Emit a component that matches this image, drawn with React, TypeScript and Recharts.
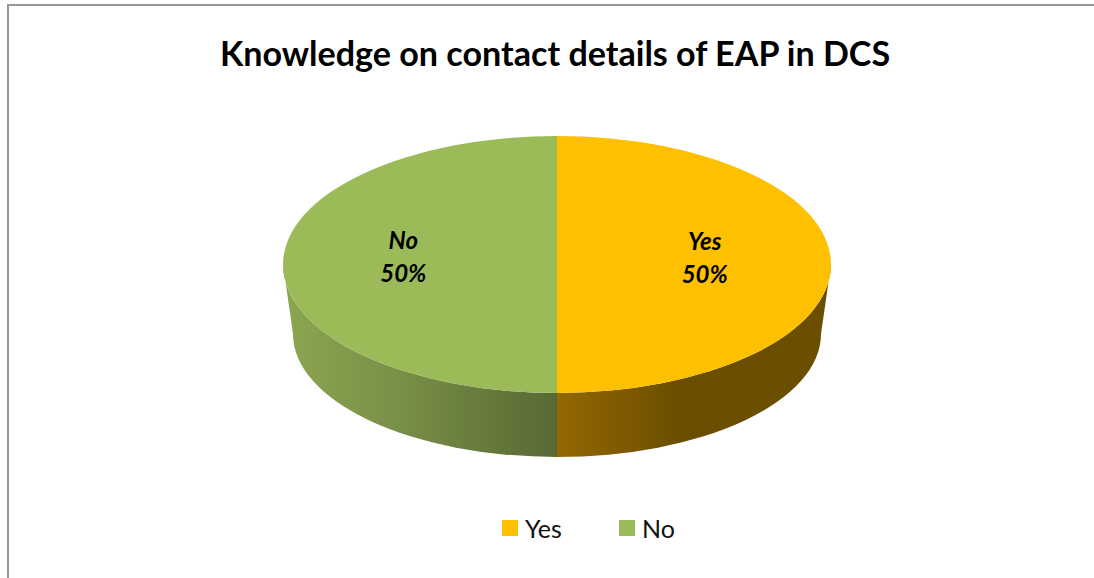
import { PieChart, Pie, Cell, Legend } from "recharts";

const categories = ["Yes", "No"];
const values = [50, 50];
const colors = ["#FFC000", "#9BBB59"];
const sideFills = ["url(#sideYes)", "url(#sideNo)"];

const pieData = categories.map((name, i) => ({ name, value: values[i] }));

const WIDTH = 1094;
const HEIGHT = 578;
const CX = 557;
const CY = 264.5;
const RX = 274;
const RY = 128.5;
// bottom rim of the 3D disc is a bit narrower than the top
const BOTTOM_RX = 264;
const BOTTOM_RY = 123;
const BOTTOM_CY = 334;
const FONT = "Lato, 'Open Sans', sans-serif";

const rad = (a: number) => (a * Math.PI) / 180;

function Disc3DSector(props: any) {
  const { startAngle, endAngle, fill, index, cx, cy } = props;
  const pt = (a: number, rx: number, ry: number, yc: number) =>
    `${cx + rx * Math.cos(rad(a))} ${yc - ry * Math.sin(rad(a))}`;

  // only the part of the sector facing the viewer has a wall
  const hi = Math.min(((startAngle % 360) + 360) % 360 || 360, 360);
  const span = startAngle - endAngle;
  const lo = hi - span;
  const wallFrom = hi > 180 ? hi : lo < 0 ? 360 : 180 + 0;
  const wallTo = hi > 180 ? Math.max(lo, 180) : Math.max(lo + 360, 270);

  const wall =
    `M ${pt(wallFrom, RX, RY, cy)} A ${RX} ${RY} 0 0 1 ${pt(wallTo, RX, RY, cy)} ` +
    `L ${pt(wallTo, BOTTOM_RX, BOTTOM_RY, BOTTOM_CY)} ` +
    `A ${BOTTOM_RX} ${BOTTOM_RY} 0 0 0 ${pt(wallFrom, BOTTOM_RX, BOTTOM_RY, BOTTOM_CY)} Z`;

  const large = span > 180 ? 1 : 0;
  const top =
    `M ${cx} ${cy} L ${pt(startAngle, RX, RY, cy)} ` +
    `A ${RX} ${RY} 0 ${large} 1 ${pt(endAngle, RX, RY, cy)} Z`;

  return (
    <g>
      <path d={wall} fill={sideFills[index]} />
      <path d={top} fill={fill} />
    </g>
  );
}

function renderLabel(props: any) {
  const { midAngle, percent, name, cx, cy, index } = props;
  const x = cx - 3 + RX * 0.55 * Math.cos(rad(midAngle));
  return (
    <text
      x={x}
      y={cy - 16 + (index === 0 ? 1 : 0)}
      textAnchor="middle"
      fontFamily={FONT}
      fontSize={24}
      fontWeight={700}
      fontStyle="italic"
      fill="#000"
    >
      <tspan x={x}>{name}</tspan>
      <tspan x={x} dy={33}>{`${Math.round(percent * 100)}%`}</tspan>
    </text>
  );
}

function renderLegend(props: any) {
  const { payload } = props;
  return (
    <div style={{ display: "flex", fontFamily: FONT, fontSize: 25, color: "#111" }}>
      {payload.map((entry: any, i: number) => (
        <div
          key={entry.value}
          style={{ display: "flex", alignItems: "center", width: i === 0 ? 117 : "auto" }}
        >
          <span style={{ width: 16, height: 16, marginRight: 7, background: entry.color }} />
          <span>{entry.value}</span>
        </div>
      ))}
    </div>
  );
}

export default function App() {
  return (
    <div
      style={{
        position: "absolute",
        left: 0,
        top: 0,
        width: WIDTH,
        height: HEIGHT,
        overflow: "hidden",
        background: "#fff",
      }}
    >
      <div
        style={{
          position: "absolute",
          left: 7,
          top: 4,
          width: WIDTH,
          height: HEIGHT,
          borderLeft: "2px solid #969696",
          borderTop: "2px solid #969696",
        }}
      />
      <div
        style={{
          position: "absolute",
          left: 0,
          width: 1110,
          top: 32,
          textAlign: "center",
          fontFamily: FONT,
          fontSize: 34.1,
          fontWeight: 700,
          color: "#000",
        }}
      >
        Knowledge on contact details of EAP in DCS
      </div>
      <PieChart
        width={WIDTH}
        height={HEIGHT}
        margin={{ top: 0, right: 0, bottom: 0, left: 0 }}
        style={{ position: "absolute", left: 0, top: 0 }}
      >
        <defs>
          <linearGradient id="sideYes" gradientUnits="userSpaceOnUse" x1={557} x2={831} y1={0} y2={0}>
            <stop offset="0" stopColor="#936800" />
            <stop offset="0.45" stopColor="#6B4E00" />
            <stop offset="1" stopColor="#6B4E00" />
          </linearGradient>
          <linearGradient id="sideNo" gradientUnits="userSpaceOnUse" x1={283} x2={557} y1={0} y2={0}>
            <stop offset="0" stopColor="#8BA650" />
            <stop offset="0.4" stopColor="#7A9148" />
            <stop offset="1" stopColor="#566933" />
          </linearGradient>
        </defs>
        <Pie
          data={pieData}
          dataKey="value"
          nameKey="name"
          cx={CX}
          cy={CY}
          outerRadius={RX}
          startAngle={90}
          endAngle={-270}
          stroke="none"
          shape={Disc3DSector}
          label={renderLabel}
          labelLine={false}
          isAnimationActive={false}
        >
          {categories.map((c, i) => (
            <Cell key={c} fill={colors[i]} />
          ))}
        </Pie>
        <Legend
          content={renderLegend}
          verticalAlign="bottom"
          itemSorter={null}
          wrapperStyle={{ left: 502, top: 513, bottom: "auto", width: 300 }}
        />
      </PieChart>
    </div>
  );
}
